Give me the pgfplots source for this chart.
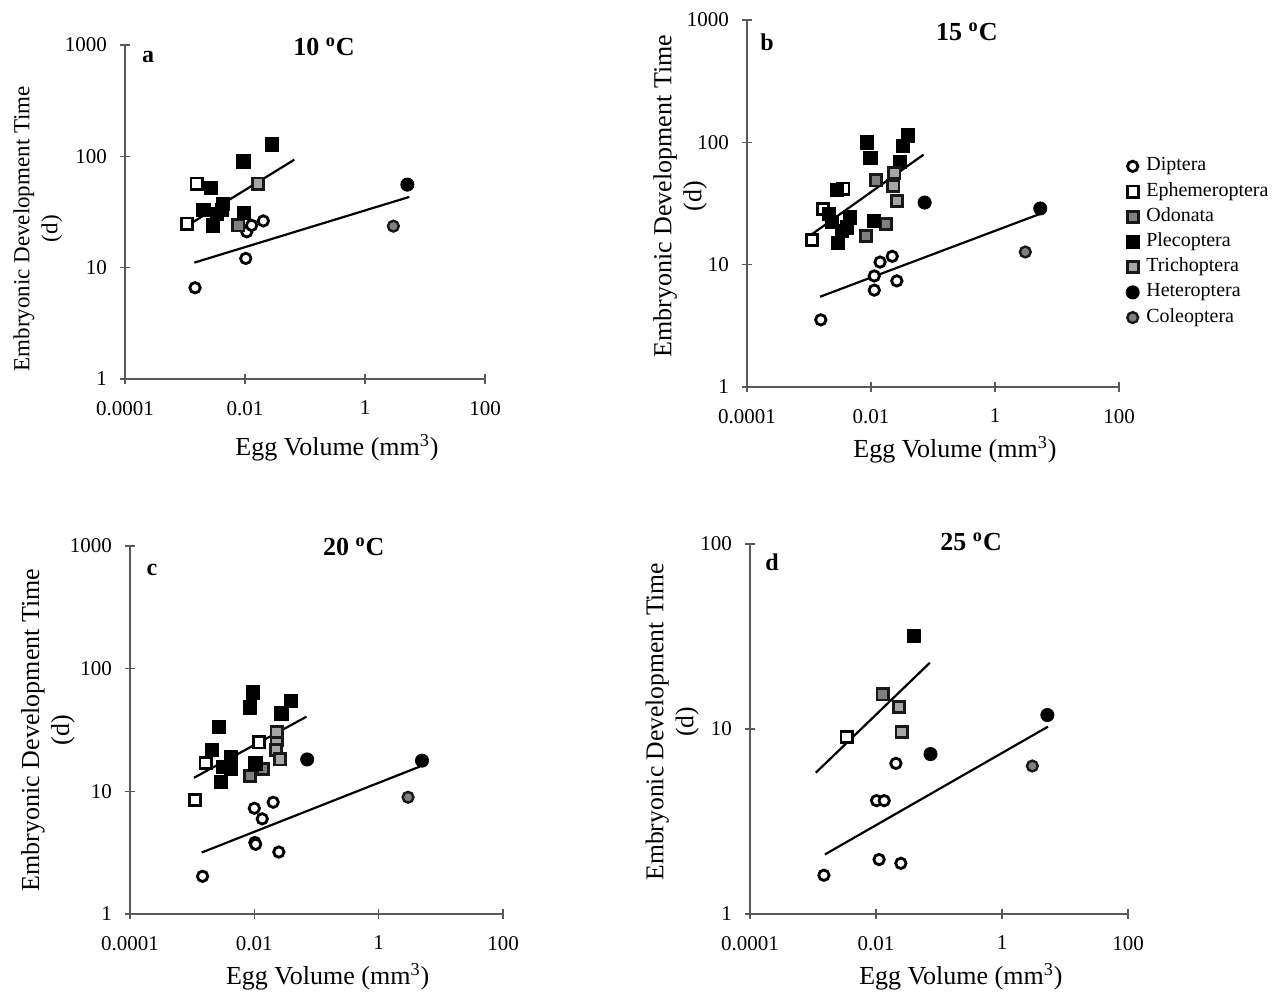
\documentclass[border=0pt]{standalone}
\usepackage{fontspec}
\setmainfont{Liberation Serif}
\usepackage{pgfplots}
\pgfplotsset{compat=1.18}

\pgfplotsset{
  egg axis/.style={
    scale only axis,
    xmin=1e-4, xmax=100,
    axis lines*=left, axis line style={black!65, line width=0.6pt, -},
    xtick pos=bottom, ytick pos=left,
    xtick={1e-4,1e-2,1,100}, xticklabels={0.0001,0.01,1,100},
    xminorticks=false, yminorticks=false,
    tick align=center, major tick length=5pt,
    tick style={black!65, line width=0.6pt},
    tick label style={font=\fontsize{10.5}{12}\selectfont},
    xticklabel style={yshift=-5pt},
    yticklabel style={xshift=-3pt},
    xlabel={Egg Volume (mm\textsuperscript{3})},
    ylabel={Embryonic Development Time\\(d)},
    xlabel style={font=\fontsize{13}{15}\selectfont},
    clip=false,
  },
  egg pts/.style={only marks, legend image code/.code={\draw[##1] plot coordinates {(0pt,0pt)};}},
  egg dip/.style={egg pts, mark=*, mark size=2.6pt, mark options={fill=white, draw=black, line width=1.4pt}},
  egg eph/.style={egg pts, mark=square*, mark size=2.8pt, mark options={fill=white, draw=black, line width=1.4pt}},
  egg odo/.style={egg pts, mark=square*, mark size=2.8pt, mark options={fill=black!50, draw=black!90, line width=1.4pt}},
  egg ple/.style={egg pts, mark=square*, mark size=3.3pt, mark options={fill=black, draw=black}},
  egg tri/.style={egg pts, mark=square*, mark size=2.8pt, mark options={fill=black!35, draw=black!90, line width=1.4pt}},
  egg het/.style={egg pts, mark=*, mark size=3.3pt, mark options={fill=black, draw=black}},
  egg col/.style={egg pts, mark=*, mark size=2.7pt, mark options={fill=black!50, draw=black!90, line width=1.2pt}},
  egg fit/.style={black, line width=1.1pt, forget plot, no marks},
}

\begin{document}
\begin{tikzpicture}
\path[use as bounding box] (0,0) rectangle (636.5pt,496pt);

% a: 10 C
\begin{loglogaxis}[egg axis, at={(62.5pt,306.5pt)}, anchor=south west,
  width=180pt, height=167pt, ymin=1, ymax=1000,
  ytick={1,10,100,1000}, yticklabels={1,10,100,1000},
  ylabel style={at={(axis description cs:-0.242,0.45)}, anchor=center, align=center, font=\fontsize{11.5}{14}\selectfont},
  xlabel style={at={(axis description cs:0.589,-0.205)}, anchor=center}]
\addplot[egg dip] coordinates {(0.00147,6.6) (0.0103,12.1) (0.0107,21) (0.0129,24) (0.0202,26.3)};
\addplot[egg eph] coordinates {(0.00109,24.9) (0.00156,56.9)};
\addplot[egg odo] coordinates {(0.00774,24)};
\addplot[egg ple] coordinates {(0.0278,128) (0.0094,90) (0.00268,52) (0.00202,32.8) (0.00296,24) (0.00337,30.6) (0.00408,32.8) (0.00425,37.6) (0.0096,31)};
\addplot[egg tri] coordinates {(0.0163,57)};
\addplot[egg het] coordinates {(5.08,55.7)};
\addplot[egg col] coordinates {(2.97,23.6)};
\addplot[egg fit] coordinates {(0.00138,25.8) (0.0664,93.3)};
\addplot[egg fit] coordinates {(0.00143,11.1) (5.48,43.2)};
\node[font=\fontsize{13}{15}\selectfont\bfseries] at (axis description cs:0.553,0.994) {10 \textsuperscript{o}C};
\node[font=\fontsize{12}{14}\selectfont\bfseries] at (axis description cs:0.064,0.964) {a};
\end{loglogaxis}

% b: 15 C
\begin{loglogaxis}[egg axis, at={(373.5pt,302.5pt)}, anchor=south west,
  width=186pt, height=183.5pt, ymin=1, ymax=1000,
  ytick={1,10,100,1000}, yticklabels={1,10,100,1000},
  ylabel style={at={(axis description cs:-0.18,0.52)}, anchor=center, align=center, font=\fontsize{13}{15}\selectfont},
  xlabel style={at={(axis description cs:0.559,-0.172)}, anchor=center},
  legend style={at={(axis description cs:1.018,0.635)}, anchor=north west, draw=none, fill=none,
    font=\fontsize{10}{12}\selectfont, row sep=0.6pt, inner sep=0pt,
    nodes={inner sep=1.5pt, text height=6.8pt, text depth=2.2pt},
    /tikz/every odd column/.append style={column sep=2pt}},
  legend cell align=left]
\addplot[egg dip] coordinates {(0.00155,3.54) (0.0113,6.19) (0.0113,8.09) (0.014,10.5) (0.022,11.7) (0.0261,7.37)};
\addlegendentry{Diptera}
\addplot[egg eph] coordinates {(0.00111,16.0) (0.00168,28.5) (0.00358,41.8)};
\addlegendentry{Ephemeroptera}
\addplot[egg odo] coordinates {(0.00824,17.2) (0.0175,21.5) (0.0121,48.9)};
\addlegendentry{Odonata}
\addplot[egg ple] coordinates {(0.00857,100) (0.0098,74.6) (0.0388,114) (0.0323,94) (0.029,68.8) (0.00282,40.8) (0.0021,25.9) (0.00234,22.2) (0.00293,15.1) (0.00409,20.2) (0.00454,24.3) (0.0113,22.9) (0.00335,19)};
\addlegendentry{Plecoptera}
\addplot[egg tri] coordinates {(0.0238,56.4) (0.0229,44) (0.0261,33.2)};
\addlegendentry{Trichoptera}
\addplot[egg het] coordinates {(0.0733,32.2) (5.37,28.8)};
\addlegendentry{Heteroptera}
\addplot[egg col] coordinates {(3.08,12.7)};
\addlegendentry{Coleoptera}
\addplot[egg fit] coordinates {(0.000927,16.6) (0.0705,79.4)};
\addplot[egg fit] coordinates {(0.00151,5.47) (5.22,25.9)};
\node[font=\fontsize{13}{15}\selectfont\bfseries] at (axis description cs:0.591,0.967) {15 \textsuperscript{o}C};
\node[font=\fontsize{12}{14}\selectfont\bfseries] at (axis description cs:0.054,0.94) {b};
\end{loglogaxis}

% c: 20 C
\begin{loglogaxis}[egg axis, at={(65pt,39pt)}, anchor=south west,
  width=186.5pt, height=184pt, ymin=1, ymax=1000,
  ytick={1,10,100,1000}, yticklabels={1,10,100,1000},
  ylabel style={at={(axis description cs:-0.22,0.5)}, anchor=center, align=center, font=\fontsize{13}{15}\selectfont},
  xlabel style={at={(axis description cs:0.53,-0.171)}, anchor=center}]
\addplot[egg dip] coordinates {(0.00147,2.03) (0.01,7.28) (0.0134,5.97) (0.0102,3.83) (0.0105,3.7) (0.0201,8.15) (0.0248,3.2)};
\addplot[egg eph] coordinates {(0.00111,8.52) (0.00164,17.1) (0.012,25.1)};
\addplot[egg odo] coordinates {(0.00848,13.4) (0.0139,15.2)};
\addplot[egg ple] coordinates {(0.00936,64) (0.00848,48.3) (0.0382,54.8) (0.0273,43.2) (0.00272,33.6) (0.00205,21.7) (0.00286,12.0) (0.00316,15.9) (0.0042,18.9) (0.0042,15.4) (0.0104,16.9)};
\addplot[egg tri] coordinates {(0.0228,26.2) (0.0222,21.7) (0.0257,18.2) (0.0228,30.3)};
\addplot[egg het] coordinates {(0.0708,18.2) (4.98,17.8)};
\addplot[egg col] coordinates {(2.97,8.95)};
\addplot[egg fit] coordinates {(0.00107,12.9) (0.069,40.6)};
\addplot[egg fit] coordinates {(0.00142,3.17) (4.57,15.9)};
\node[font=\fontsize{13}{15}\selectfont\bfseries] at (axis description cs:0.6,0.997) {20 \textsuperscript{o}C};
\node[font=\fontsize{12}{14}\selectfont\bfseries] at (axis description cs:0.059,0.935) {c};
\end{loglogaxis}

% d: 25 C
\begin{loglogaxis}[egg axis, at={(375pt,39pt)}, anchor=south west,
  width=189pt, height=185pt, ymin=1, ymax=100,
  ytick={1,10,100}, yticklabels={1,10,100},
  ylabel style={at={(axis description cs:-0.206,0.52)}, anchor=center, align=center, font=\fontsize{12.8}{15}\selectfont},
  xlabel style={at={(axis description cs:0.558,-0.17)}, anchor=center}]
\addplot[egg dip] coordinates {(0.00149,1.62) (0.0112,1.97) (0.0248,1.88) (0.0102,4.1) (0.0135,4.1) (0.0207,6.52)};
\addplot[egg eph] coordinates {(0.00341,9.02)};
\addplot[egg odo] coordinates {(0.0127,15.4)};
\addplot[egg ple] coordinates {(0.0398,31.8)};
\addplot[egg tri] coordinates {(0.0233,13.2) (0.0254,9.67)};
\addplot[egg het] coordinates {(0.0733,7.32) (5.25,11.9)};
\addplot[egg col] coordinates {(3.03,6.31)};
\addplot[egg fit] coordinates {(0.00111,5.81) (0.0715,22.8)};
\addplot[egg fit] coordinates {(0.00155,2.1) (5.37,10.3)};
\node[font=\fontsize{13}{15}\selectfont\bfseries] at (axis description cs:0.585,1.005) {25 \textsuperscript{o}C};
\node[font=\fontsize{12}{14}\selectfont\bfseries] at (axis description cs:0.058,0.951) {d};
\end{loglogaxis}
\end{tikzpicture}
\end{document}
